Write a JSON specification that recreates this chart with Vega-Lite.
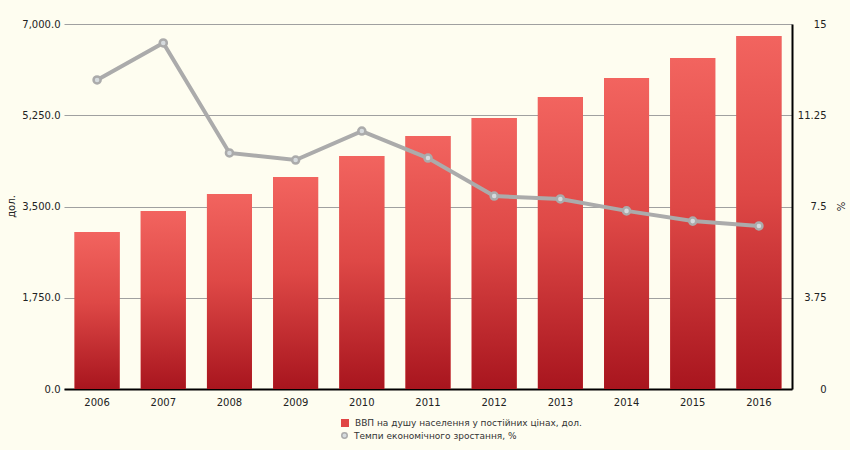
{
  "$schema": "https://vega.github.io/schema/vega-lite/v6.json",
  "width": 728,
  "height": 365,
  "autosize": {"type": "none"},
  "padding": {"left": 64, "top": 24, "right": 58, "bottom": 61},
  "background": "#FEFDF0",
  "config": {
    "font": "DejaVu Sans",
    "view": {"stroke": null},
    "axis": {"labelFont": "DejaVu Sans", "labelFontSize": 10, "labelColor": "#222222", "titleFont": "DejaVu Sans", "titleFontSize": 10, "titleFontWeight": "normal", "titleColor": "#222222"},
    "legend": {"labelFont": "DejaVu Sans", "labelFontSize": 9, "labelColor": "#333333", "labelLimit": 500}
  },
  "data": {
    "values": [
      {"year": "2006", "gdp": 3011, "growth": 12.70},
      {"year": "2007", "gdp": 3414, "growth": 14.22},
      {"year": "2008", "gdp": 3740, "growth": 9.70},
      {"year": "2009", "gdp": 4066, "growth": 9.41},
      {"year": "2010", "gdp": 4468, "growth": 10.60},
      {"year": "2011", "gdp": 4852, "growth": 9.49},
      {"year": "2012", "gdp": 5197, "growth": 7.93},
      {"year": "2013", "gdp": 5600, "growth": 7.81},
      {"year": "2014", "gdp": 5964, "growth": 7.32},
      {"year": "2015", "gdp": 6348, "growth": 6.90},
      {"year": "2016", "gdp": 6770, "growth": 6.70}
    ]
  },
  "encoding": {
    "x": {
      "field": "year", "type": "ordinal",
      "scale": {"paddingInner": 0.32, "paddingOuter": 0.16},
      "axis": {"title": null, "labelAngle": 0, "ticks": false, "domainColor": "#000000", "domainWidth": 2, "labelPadding": 8, "grid": false}
    }
  },
  "layer": [
    {
      "layer": [
        {
          "mark": {"type": "bar"},
          "encoding": {
            "y": {
              "field": "gdp", "type": "quantitative",
              "scale": {"domain": [0, 7000], "nice": false},
              "axis": {"title": "дол.", "values": [0, 1750, 3500, 5250, 7000], "format": ",.1f", "grid": true, "gridColor": "#A0A0A0", "domain": false, "ticks": false, "labelPadding": 4, "titleX": -48, "titleY": 182, "titleAngle": -90}
            },
            "fill": {
              "datum": "ВВП на душу населення у постійних цінах, дол.",
              "scale": {"range": ["#E04545"]},
              "legend": {"title": null, "orient": "none", "legendX": 276, "legendY": 394, "symbolType": "square", "symbolSize": 64, "labelOffset": 5}
            }
          }
        },
        {
          "mark": {
            "type": "bar",
            "color": {"gradient": "linear", "x1": 0, "y1": 0, "x2": 0, "y2": 1, "stops": [{"offset": 0, "color": "#F2645F"}, {"offset": 0.45, "color": "#DE4846"}, {"offset": 1, "color": "#A8151E"}]}
          },
          "encoding": {"y": {"field": "gdp", "type": "quantitative"}}
        }
      ]
    },
    {
      "layer": [
        {
          "mark": {"type": "line", "color": "#ABABAB", "strokeWidth": 4},
          "encoding": {
            "y": {
              "field": "growth", "type": "quantitative",
              "scale": {"domain": [0, 15], "nice": false},
              "axis": {"orient": "right", "title": "%", "values": [0, 3.75, 7.5, 11.25, 15], "labelExpr": "'' + datum.value", "grid": false, "domainColor": "#000000", "domainWidth": 2, "ticks": false, "labelAlign": "right", "labelPadding": 34, "titleAngle": 90, "titleX": 42, "titleY": 182}
            }
          }
        },
        {
          "mark": {"type": "point", "filled": true, "fill": "#D6DBDE", "strokeWidth": 2.5, "size": 50, "opacity": 1},
          "encoding": {
            "y": {"field": "growth", "type": "quantitative"},
            "stroke": {
              "datum": "Темпи економічного зростання, %",
              "scale": {"range": ["#ABABAB"]},
              "legend": {"title": null, "orient": "none", "legendX": 276, "legendY": 407, "symbolType": "circle", "symbolSize": 30, "symbolFillColor": "#F4F4F4", "symbolStrokeWidth": 1.5, "labelOffset": 5}
            }
          }
        }
      ]
    }
  ],
  "resolve": {"scale": {"y": "independent"}}
}
